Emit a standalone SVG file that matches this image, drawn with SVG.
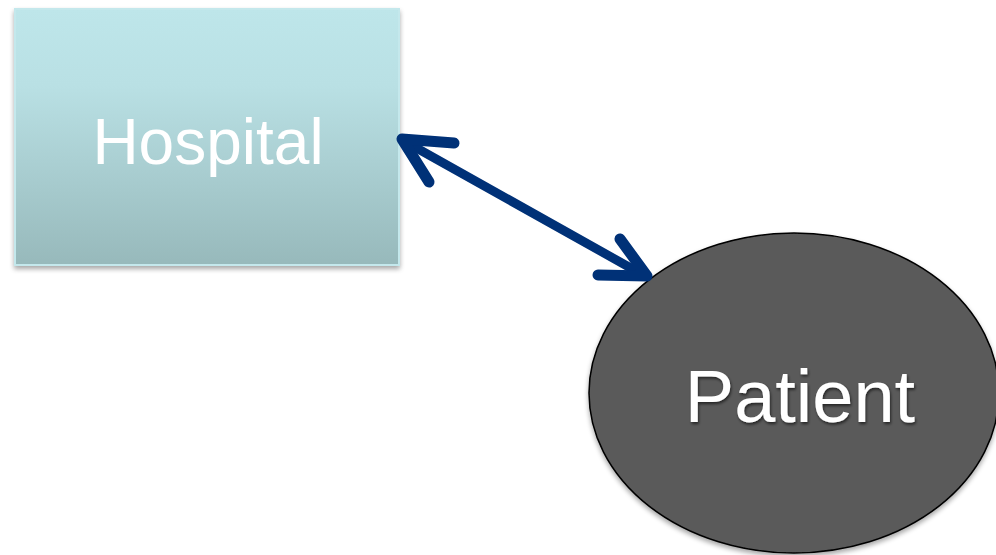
<svg xmlns="http://www.w3.org/2000/svg" width="996" height="555" viewBox="0 0 996 555">
  <defs>
    <linearGradient id="boxFill" x1="0" y1="0" x2="0" y2="1">
      <stop offset="0" stop-color="#bee6ea"/>
      <stop offset="0.3" stop-color="#b9e0e4"/>
      <stop offset="1" stop-color="#97b9bb"/>
    </linearGradient>
    <filter id="shadow" x="-10%" y="-10%" width="120%" height="125%">
      <feGaussianBlur in="SourceAlpha" stdDeviation="2.5"/>
      <feOffset dx="0" dy="3" result="b"/>
      <feComponentTransfer><feFuncA type="linear" slope="0.35"/></feComponentTransfer>
      <feMerge><feMergeNode/><feMergeNode in="SourceGraphic"/></feMerge>
    </filter>
    <filter id="textShadow" x="-10%" y="-20%" width="120%" height="150%">
      <feGaussianBlur in="SourceAlpha" stdDeviation="1.5"/>
      <feOffset dx="1" dy="2" result="b"/>
      <feComponentTransfer><feFuncA type="linear" slope="0.6"/></feComponentTransfer>
      <feMerge><feMergeNode/><feMergeNode in="SourceGraphic"/></feMerge>
    </filter>
  </defs>
  <style>
    .label { font-family: "Liberation Sans", Arial, sans-serif; fill: #ffffff; text-anchor: middle; }
    .link { fill: none; stroke: #003177; stroke-width: 9; stroke-linecap: round; stroke-linejoin: round; }
    .head { stroke-width: 11; }
  </style>
  <rect width="996" height="555" fill="#ffffff"/>

  <g id="hospital" filter="url(#shadow)">
    <rect x="15" y="9" width="384" height="256" fill="url(#boxFill)" stroke="#c4e8ec" stroke-width="2"/>
    <text class="label" x="208" y="164" font-size="64">Hospital</text>
  </g>

  <g id="patient">
    <ellipse cx="794" cy="393" rx="205" ry="160" fill="#5a5a5a" stroke="#000000" stroke-width="1.5" filter="url(#shadow)"/>
    <text class="label" x="800" y="422" font-size="74" filter="url(#textShadow)">Patient</text>
  </g>

  <g id="connectors">
    <line class="link" x1="404" y1="141" x2="645" y2="276"/>
    <polyline class="link head" points="454,143 402,139 429,182"/>
    <polyline class="link head" points="620,239 647,276 598,275"/>
  </g>
</svg>
